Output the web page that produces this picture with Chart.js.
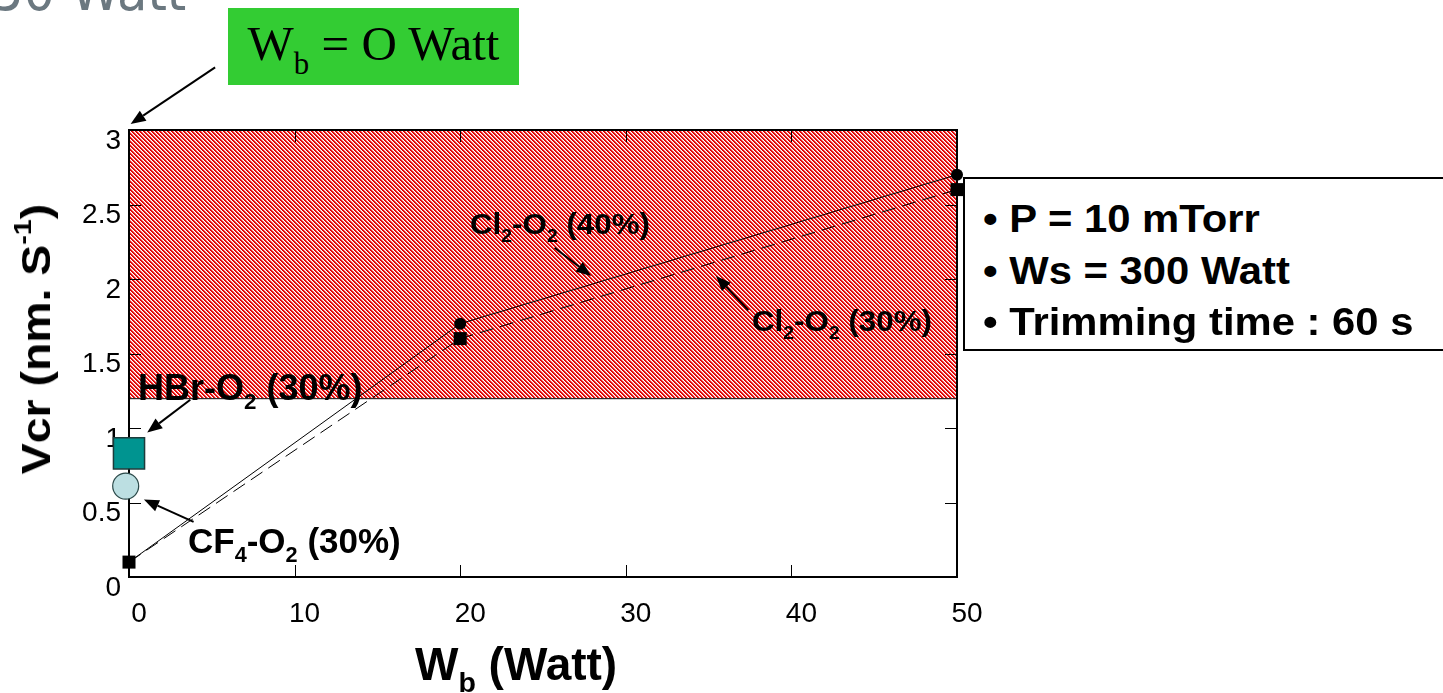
<!DOCTYPE html>
<html>
<head>
<meta charset="utf-8">
<script src="https://cdn.jsdelivr.net/npm/chart.js@4.4.0/dist/chart.umd.min.js"></script>
<style>
html,body{margin:0;padding:0;background:#fff;overflow:hidden}
#wrap{position:relative;width:1443px;height:693px}
#c{position:absolute;left:0;top:0}
.t{position:absolute;font-family:"Liberation Sans",Arial,sans-serif;font-weight:bold;color:#000;white-space:nowrap;line-height:1;transform-origin:0 0}
.t sub{font-size:62%;line-height:0;vertical-align:-0.42em}
.t sup{font-size:62%;line-height:0;vertical-align:0.75em}
#ghost{position:absolute;left:-8px;top:-35px;font-family:"DejaVu Sans",sans-serif;font-size:54px;color:#6b7880;white-space:nowrap;line-height:1;transform:scaleX(0.92);transform-origin:0 0}
#green{position:absolute;left:228px;top:8px;width:291px;height:77px;background:#33cc33;display:flex;align-items:center;justify-content:center}
#green span{font-family:"Liberation Serif","Times New Roman",serif;font-size:49px;color:#000;white-space:nowrap;line-height:1;position:relative;top:-3px}
#green sub{font-size:63%;line-height:0;vertical-align:-0.45em}
#info{position:absolute;left:963px;top:177px;width:520px;height:174px;border:2px solid #000;background:#fff;box-sizing:border-box}
</style>
</head>
<body>
<div id="wrap">
  <canvas id="c" width="1443" height="693"></canvas>
  <div id="ghost">50 Watt</div>
  <div id="green"><span>W<sub>b</sub> = O Watt</span></div>
  <div id="info"></div>
  <div class="t" id="l40" style="font-size:29px">Cl<sub>2</sub>-O<sub>2</sub> (40%)</div>
  <div class="t" id="l30" style="font-size:29px">Cl<sub>2</sub>-O<sub>2</sub> (30%)</div>
  <div class="t" id="lhbr" style="font-size:36px">HBr-O<sub>2</sub> (30%)</div>
  <div class="t" id="lcf4" style="font-size:35px">CF<sub>4</sub>-O<sub>2</sub> (30%)</div>
  <div class="t" id="i1" style="font-size:38px">• P = 10 mTorr</div>
  <div class="t" id="i2" style="font-size:38px">• Ws = 300 Watt</div>
  <div class="t" id="i3" style="font-size:38px">• Trimming time : 60 s</div>
  <div class="t" id="xt" style="font-size:46px">W<sub>b</sub> (Watt)</div>
  <div class="t" id="yt" style="font-size:40px">Vcr (nm. S<sup>-1</sup>)</div>
</div>
<script>
// ---- data ----
const wattValues=[0,20,50];
const vcrCl2O2_40=[0.1,1.7,2.7];
const vcrCl2O2_30=[0.1,1.6,2.6];
const hbrWatt=[0], hbrVcr=[0.83];
const cf4Watt=[-0.2], cf4Vcr=[0.61];
const xTickValues=[0,10,20,30,40,50];
const yTickValues=[0,0.5,1,1.5,2,2.5,3];
const hatchRange=[1.2,3]; // Vcr band shaded in red

// arrows, in data units: [fromX, fromY, toX, toY]
const arrows=[
  [5.2,3.42,0.1,3.04],
  [25.7,2.21,27.9,2.02],
  [37.4,1.79,35.45,2.02],
  [3.7,1.19,1.1,0.97],
  [3.9,0.37,0.9,0.52]
];

const pts=(xs,ys)=>xs.map((x,i)=>({x,y:ys[i]}));

// place a text div by its baseline
function place(id,left,baseline,scaleX){
  const el=document.getElementById(id);
  const fs=parseFloat(el.style.fontSize);
  el.style.left=left+"px"; el.style.top=(baseline-0.8465*fs)+"px";
  if(scaleX) el.style.transform=`scaleX(${scaleX})`;
}
place("l40",470,235,1.08);
place("l30",752,332,1.08);
place("lhbr",138,400,1.0);
place("lcf4",188,553,1.0);
place("i1",983,232,1.1);
place("i2",983,284,1.1);
place("i3",983,335,1.1);
place("xt",415,680,1.0);
const yt=document.getElementById("yt");
yt.style.left="36px"; yt.style.top="339px";
yt.style.transformOrigin="50% 50%";
yt.style.transform="translate(-50%,-50%) rotate(-90deg) scaleX(1.16)";

// hatch pattern: red diagonal stripes going down-right
function makeHatch(){
  const p=document.createElement("canvas"); p.width=4; p.height=4;
  const g=p.getContext("2d");
  const shade=["#e00000","#e41010","#f7a0a0","#ffffff"];
  for(let y=0;y<4;y++) for(let x=0;x<4;x++){
    g.fillStyle=shade[(x-y+8)%4]; g.fillRect(x,y,1,1);
  }
  return g.createPattern(p,"repeat");
}

const decor={
  id:"decor",
  beforeDatasetsDraw(chart){
    const {ctx,scales:{x,y},chartArea:a}=chart;
    ctx.save();
    // hatched band
    ctx.fillStyle=makeHatch();
    const yTop=y.getPixelForValue(hatchRange[1]), yBot=y.getPixelForValue(hatchRange[0]);
    ctx.fillRect(a.left,yTop,a.right-a.left,yBot-yTop);
    ctx.strokeStyle="#000"; ctx.lineWidth=1;
    ctx.beginPath(); ctx.moveTo(a.left,yBot+0.5); ctx.lineTo(a.right,yBot+0.5); ctx.stroke();
    // inside ticks on all four sides
    const L=12;
    ctx.beginPath();
    yTickValues.slice(1,-1).forEach(v=>{
      const py=Math.round(y.getPixelForValue(v))+0.5;
      ctx.moveTo(a.left,py); ctx.lineTo(a.left+L,py);
      ctx.moveTo(a.right,py); ctx.lineTo(a.right-L,py);
    });
    xTickValues.slice(1,-1).forEach(v=>{
      const px=Math.round(x.getPixelForValue(v))+0.5;
      ctx.moveTo(px,a.bottom); ctx.lineTo(px,a.bottom-L);
      ctx.moveTo(px,a.top); ctx.lineTo(px,a.top+L);
    });
    ctx.stroke();
    // frame
    ctx.lineWidth=2;
    ctx.strokeRect(a.left,a.top,a.right-a.left,a.bottom-a.top);
    ctx.restore();
  },
  afterDatasetsDraw(chart){
    const {ctx,scales:{x,y}}=chart;
    ctx.save();
    ctx.strokeStyle="#000"; ctx.fillStyle="#000"; ctx.lineWidth=2;
    arrows.forEach(([fx,fy,tx,ty])=>{
      const x1=x.getPixelForValue(fx), y1=y.getPixelForValue(fy);
      const x2=x.getPixelForValue(tx), y2=y.getPixelForValue(ty);
      const ang=Math.atan2(y2-y1,x2-x1), hl=15, hw=6;
      const bx=x2-hl*Math.cos(ang), by=y2-hl*Math.sin(ang);
      ctx.beginPath(); ctx.moveTo(x1,y1); ctx.lineTo(bx,by); ctx.stroke();
      ctx.beginPath();
      ctx.moveTo(x2,y2);
      ctx.lineTo(bx+hw*Math.sin(ang),by-hw*Math.cos(ang));
      ctx.lineTo(bx-hw*Math.sin(ang),by+hw*Math.cos(ang));
      ctx.closePath(); ctx.fill();
    });
    ctx.restore();
  }
};

const tickFont={family:"'Liberation Sans', Arial, sans-serif",size:28};

new Chart(document.getElementById("c"),{
  type:"scatter",
  data:{datasets:[
    {label:"Cl2-O2 (30%)",data:pts(wattValues,vcrCl2O2_30),showLine:true,borderColor:"#000",borderWidth:1,borderDash:[14,7],
      pointStyle:"rect",pointRadius:9.2,pointBackgroundColor:"#000",pointBorderWidth:0,clip:false},
    {label:"Cl2-O2 (40%)",data:pts(wattValues,vcrCl2O2_40),showLine:true,borderColor:"#000",borderWidth:1,
      pointStyle:"circle",pointRadius:6,pointBackgroundColor:"#000",pointBorderWidth:0,clip:false},
    {label:"HBr-O2 (30%)",data:pts(hbrWatt,hbrVcr),pointStyle:"rect",pointRadius:22,
      pointBackgroundColor:"#009490",pointBorderColor:"#1d3b3b",pointBorderWidth:1.5,clip:false},
    {label:"CF4-O2 (30%)",data:pts(cf4Watt,cf4Vcr),pointStyle:"circle",pointRadius:13,
      pointBackgroundColor:"#bcdfe2",pointBorderColor:"#2c4a4a",pointBorderWidth:1.2,clip:false}
  ]},
  options:{
    responsive:false,animation:false,devicePixelRatio:1,
    layout:{padding:{left:0,top:130,right:486,bottom:0}},
    plugins:{legend:{display:false},tooltip:{enabled:false}},
    scales:{
      x:{type:"linear",min:0,max:50,
        grid:{display:false,drawTicks:false},border:{display:false},
        afterBuildTicks:s=>{s.ticks=xTickValues.map(v=>({value:v}));},
        afterFit:s=>{s.height=693-577;},
        ticks:{color:"#000",font:tickFont,labelOffset:10,padding:20,maxRotation:0,callback:v=>String(v)}},
      y:{type:"linear",min:0,max:3,
        grid:{display:false,drawTicks:false},border:{display:false},
        afterBuildTicks:s=>{s.ticks=yTickValues.map(v=>({value:v}));},
        afterFit:s=>{s.width=129;},
        ticks:{color:"#000",font:tickFont,labelOffset:11,padding:8,callback:v=>String(v)}}
    }
  },
  plugins:[decor]
});
</script>
</body>
</html>
